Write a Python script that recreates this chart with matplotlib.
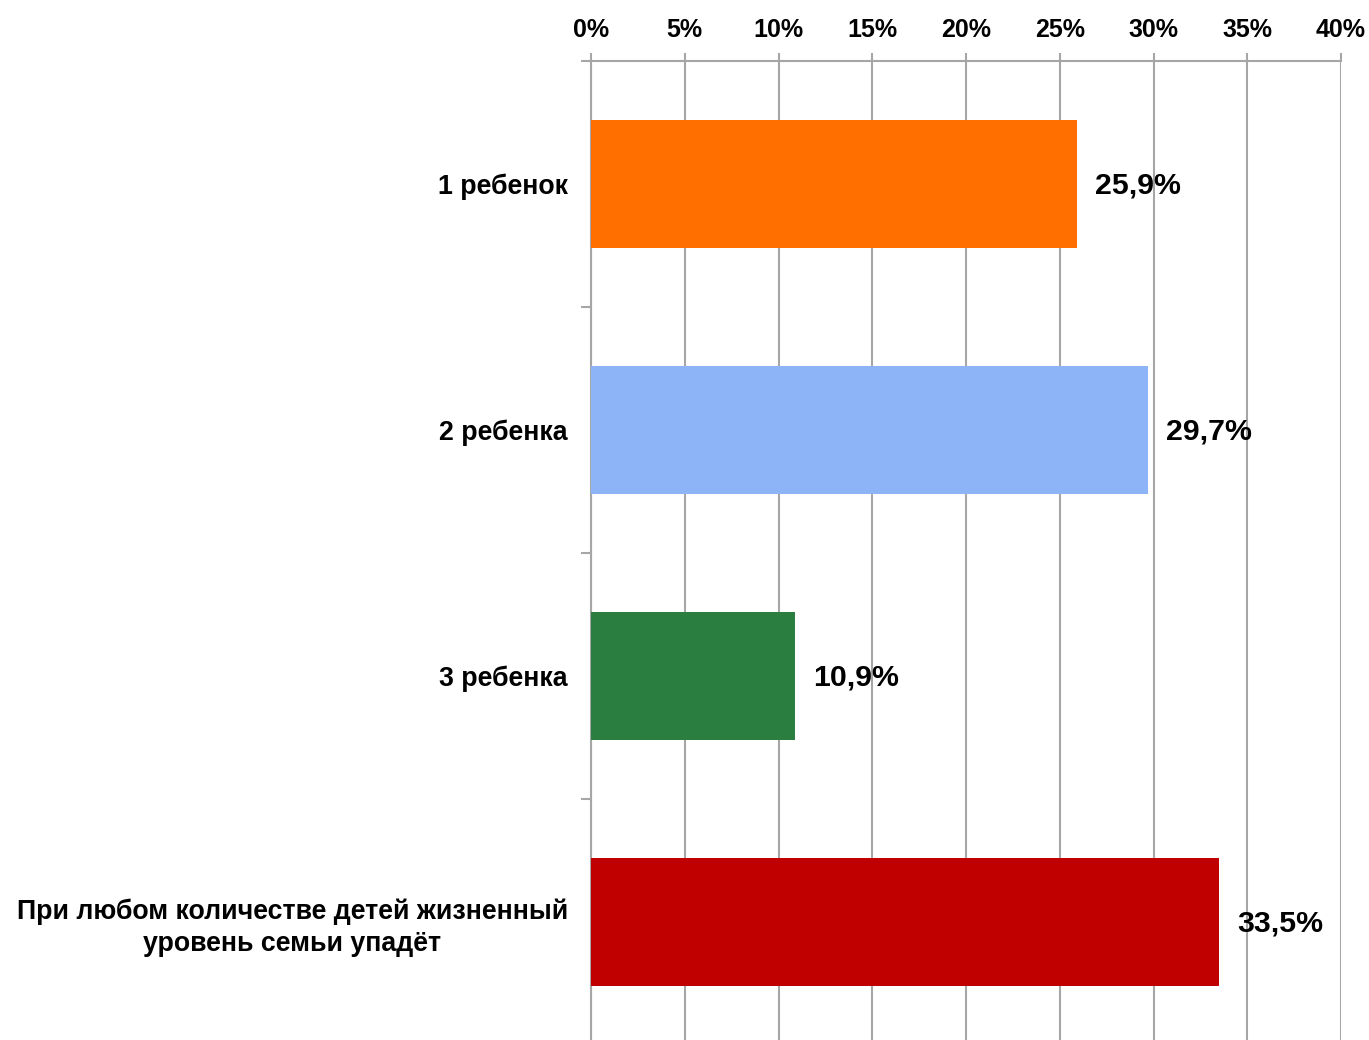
import matplotlib.pyplot as plt
import numpy as np

categories = ["1 ребенок", "2 ребенка", "3 ребенка",
              "При любом количестве детей жизненный\nуровень семьи упадёт"]
values = [25.9, 29.7, 10.9, 33.5]
value_labels = ["25,9%", "29,7%", "10,9%", "33,5%"]
colors = ["#FF6F00", "#8EB4F8", "#2A7F40", "#C00000"]
x_ticks = [0, 5, 10, 15, 20, 25, 30, 35, 40]

plt.rcParams['font.family'] = ['Liberation Sans', 'DejaVu Sans']
plt.rcParams['font.weight'] = 'bold'

fig = plt.figure(figsize=(13.69, 10.40), dpi=100)
ax = fig.add_axes([591/1369, 1 - 1045/1040, 750/1369, 984/1040])

grid_col = "#A6A6A6"
y = np.arange(len(categories))
ax.barh(y, values, height=0.52, color=colors, zorder=3)

ax.set_xlim(0, 40)
ax.set_ylim(len(categories) - 0.5, -0.5)

ax.xaxis.tick_top()
ax.set_xticks(x_ticks)
ax.set_xticklabels([f"{v}%" for v in x_ticks], fontsize=18, fontweight='bold')
ax.tick_params(axis='x', length=6, color=grid_col, width=1.5, pad=8)
ax.grid(axis='x', color=grid_col, linewidth=1.5, zorder=0)

ax.set_yticks(y)
ax.set_yticklabels(categories, fontsize=19.3, fontweight='bold', linespacing=1.3)
for lab in ax.get_yticklabels():
    lab.set_multialignment('center')
ax.set_yticks(np.arange(-0.5, len(categories)), minor=True)
ax.tick_params(axis='y', which='major', length=0, pad=16.5)
ax.tick_params(axis='y', which='minor', length=7, color=grid_col, width=1.5)

for s in ['right', 'bottom']:
    ax.spines[s].set_visible(False)
for s in ['left', 'top']:
    ax.spines[s].set_color(grid_col)
    ax.spines[s].set_linewidth(1.5)

for i, v in enumerate(values):
    ax.annotate(value_labels[i], (v, i), xytext=(13, -1), textcoords='offset points',
                va='center', ha='left', fontsize=21.8, fontweight='bold', zorder=4)

fig.savefig("out.png", dpi=100)
